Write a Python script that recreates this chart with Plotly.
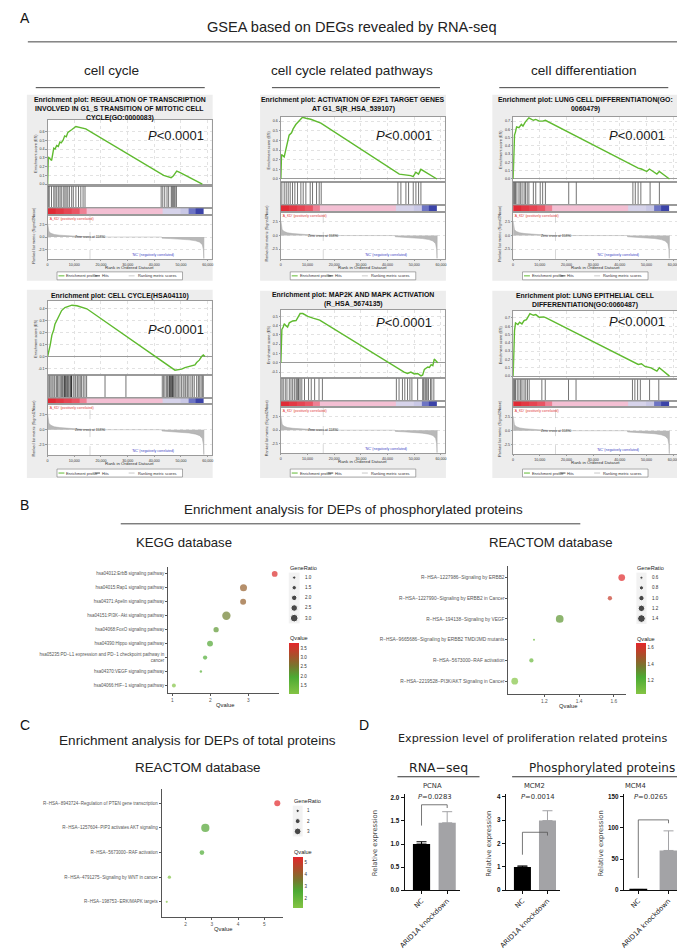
import plotly.graph_objects as go

W, H = 685, 949
FONT = "Liberation Sans, Arial, Helvetica, sans-serif"
NARROW = "Liberation Sans Narrow, Arial Narrow, Liberation Sans, sans-serif"
DVS = "DejaVu Sans, Verdana, sans-serif"

# ======================= DATA =======================
# ---- A: GSEA running enrichment score (rank, ES) ----
P1_RANK = [0, 250, 1500, 2300, 2800, 3400, 4000, 4600, 5100, 5800, 6400, 7000, 7600, 8200, 9000, 10600, 12400, 14300, 43500, 46300, 47000, 48400, 49500, 58000]
P1_ES = [0.0, 0.31, 0.27, 0.41, 0.40, 0.44, 0.43, 0.48, 0.47, 0.50, 0.55, 0.54, 0.59, 0.60, 0.62, 0.656, 0.645, 0.63, 0.10, 0.075, 0.09, 0.15, 0.135, 0.0]
P1_HITS = [240, 610, 1460, 2320, 2800, 3410, 4020, 4630, 5120, 5850, 6460, 6950, 7560, 8170, 9020, 9630, 10600, 11580, 12440, 13290, 14020,
           42560, 43170, 43900, 44760, 45370, 46340, 46700, 47070, 47440, 47800, 48290]

P2_RANK = [0, 250, 1250, 1900, 2500, 3100, 4000, 4600, 5600, 6900, 8100, 9400, 11200, 15000, 44400, 48700, 49600, 50600, 51600, 52500, 58500]
P2_ES = [0.0, 0.255, 0.23, 0.31, 0.37, 0.455, 0.48, 0.52, 0.565, 0.61, 0.64, 0.63, 0.62, 0.58, 0.05, 0.035, 0.025, 0.07, 0.05, 0.10, 0.0]
P2_HITS = [375, 1250, 2000, 2750, 3500, 4375, 5250, 6250, 7500, 8375, 9375, 11000, 11875, 13375, 14375, 15125,
           43875, 45000, 46875, 47875, 49625, 50625, 51625, 52500]

P3_RANK = [0, 260, 520, 900, 1300, 2200, 3100, 3700, 4600, 5900, 7600, 8500, 9800, 11100, 12100, 46900, 48100, 50100, 51100, 53900, 54800, 58600]
P3_ES = [0.0, 0.45, 0.53, 0.57, 0.63, 0.62, 0.66, 0.64, 0.69, 0.74, 0.71, 0.72, 0.70, 0.70, 0.71, 0.13, 0.12, 0.09, 0.12, 0.06, 0.09, 0.0]
P3_HITS = [130, 515, 900, 1420, 2190, 2700, 3350, 4120, 4630, 5280, 5920, 7590, 8490, 10160, 11070, 12100, 20850, 23680,
           44900, 45800, 46850, 47880, 51350, 54830]

P4_RANK = [0, 250, 600, 1000, 1600, 2250, 2740, 4000, 5250, 6490, 9100, 11000, 13200, 14700, 47740, 50240, 51480, 52730, 53980, 55230, 55860, 56850, 57730, 58360, 58980]
P4_ES = [0.0, 0.02, 0.07, 0.10, 0.18, 0.22, 0.27, 0.325, 0.385, 0.41, 0.43, 0.425, 0.41, 0.40, -0.114, -0.105, -0.092, -0.086, -0.078, -0.07, -0.05, -0.03, 0.0, 0.014, 0.0]
P4_HITS = [225, 750, 1240, 1720, 2360, 2740, 3370, 3750, 4240, 4740, 5240, 5620, 6110, 6300, 6500, 6740, 7120, 7490, 7740, 8110, 8620, 8800, 8900,
           9000, 9620, 10240, 10610, 11250, 11740, 12240, 12740, 13360, 14000, 14620, 21520, 29360,
           42980, 43500, 43990, 44620, 45000, 45490, 45700, 45980, 46200, 46510, 46730, 46900, 47110, 47480, 48010, 48500, 48990,
           49600, 50240, 50840, 51480, 51850, 52490, 52980, 53730, 54370, 54970, 55870, 56480, 56850, 57490, 57970, 58350]

P5_RANK = [0, 250, 380, 890, 1270, 1900, 2530, 3160, 4430, 5700, 6330, 7220, 8230, 10130, 12030, 14560, 46200, 47470, 48740, 50000, 51270, 52540, 53160, 53800, 55070, 55700, 56340, 56970, 57500, 58200, 58800]
P5_ES = [0.0, 0.18, 0.36, 0.385, 0.42, 0.40, 0.385, 0.43, 0.45, 0.455, 0.485, 0.53, 0.53, 0.50, 0.48, 0.46, -0.10, -0.115, -0.10, -0.12, -0.115, -0.14, -0.13, -0.07, -0.045, -0.05, -0.02, -0.03, 0.04, 0.02, 0.0]
P5_HITS = [380, 890, 1650, 2280, 3160, 3800, 4430, 5060, 5700, 6080, 6460, 6710, 7220, 7850, 8860, 10380, 11390, 12660, 14310, 15570,
           43300, 44310, 45580, 46460, 47480, 48360, 49120, 51270, 53170, 53550, 54060, 54440, 54820, 55320, 56080, 56590, 57350]

P6_RANK = [0, 260, 520, 900, 1800, 2400, 3300, 4100, 5000, 6300, 7600, 8500, 9800, 11500, 12400, 46900, 48100, 49400, 50700, 51700, 53900, 54800, 58600]
P6_ES = [0.0, 0.44, 0.548, 0.64, 0.62, 0.648, 0.628, 0.668, 0.68, 0.752, 0.732, 0.74, 0.708, 0.712, 0.70, 0.14, 0.148, 0.116, 0.108, 0.10, 0.06, 0.10, 0.0]
P6_HITS = [130, 510, 900, 1540, 2180, 2820, 3330, 4100, 4740, 5380, 6030, 10770, 12050, 20770, 23590,
           44740, 45640, 46670, 47690, 51150, 54610]

# ranked list metric (shared by the six GSEA plots)
METRIC_RANK = [0, 150, 500, 1200, 2500, 4500, 7000, 10000, 13000, 15890, 42800, 42900, 46000, 50000, 53000, 55500, 57000, 58000, 58400, 58550, 58600]
METRIC_VAL = [2.7, 1.7, 1.1, 0.75, 0.5, 0.36, 0.25, 0.15, 0.06, 0.0, 0.0, -0.22, -0.3, -0.42, -0.55, -0.75, -1.0, -1.5, -2.5, -4.2, 0.0]
ZERO_CROSS = 15890
BAR_EDGES = [0, 3000, 6000, 9000, 12000, 14500, 43000, 50000, 53000, 55500, 58600]
BAR_LEVELS = [0.0, 0.05, 0.1, 0.16, 0.25, 0.45, 0.62, 0.72, 0.88, 1.0]
RANK_TICKS = [0, 10000, 20000, 30000, 40000, 50000, 60000]
RANK_TICK_TEXT = ["0", "10,000", "20,000", "30,000", "40,000", "50,000", "60,000"]

# ---- B: KEGG (phosphorylated proteins) ----
KEGG_TERMS = ["hsa04012:ErbB signaling pathway", "hsa04015:Rap1 signaling pathway", "hsa04371:Apelin signaling pathway",
              "hsa04151:PI3K−Akt signaling pathway", "hsa04068:FoxO signaling pathway", "hsa04390:Hippo signaling pathway",
              "hsa05235:PD−L1 expression and PD−1 checkpoint pathway in<br>cancer", "hsa04370:VEGF signaling pathway",
              "hsa04066:HIF−1 signaling pathway"]
KEGG_Q = [3.69, 2.87, 2.86, 2.42, 2.15, 1.99, 1.86, 1.75, 1.04]
KEGG_GR = [2.1, 2.7, 2.2, 3.3, 1.9, 2.2, 1.45, 0.6, 1.3]
KEGG_GR_LEG = [1.0, 1.5, 2.0, 2.5, 3.0]
KEGG_Q_TICKS = [1.5, 2.0, 2.5, 3.0, 3.5]

# ---- B: REACTOM (phosphorylated proteins) ----
RB_TERMS = ["R−HSA−1227986−Signaling by ERBB2", "R−HSA−1227990−Signaling by ERBB2 in Cancer", "R−HSA−194138−Signaling by VEGF",
            "R−HSA−9665686−Signaling by ERBB2 TMD/JMD mutants", "R−HSA−5673000−RAF activation",
            "R−HSA−2219528−PI3K/AKT Signaling in Cancer"]
RB_Q = [1.645, 1.577, 1.288, 1.14, 1.125, 1.029]
RB_GR = [1.23, 0.82, 1.4, 0.43, 0.82, 1.23]
RB_GR_LEG = [0.6, 0.8, 1.0, 1.2, 1.4]
RB_Q_TICKS = [1.2, 1.4, 1.6]

# ---- C: REACTOM (total proteins) ----
C_TERMS = ["R−HSA−8943724−Regulation of PTEN gene transcription", "R−HSA−1257604−PIP3 activates AKT signaling",
           "R−HSA−5673000−RAF activation", "R−HSA−4791275−Signaling by WNT in cancer", "R−HSA−198753−ERK/MAPK targets"]
C_Q = [5.49, 2.75, 2.62, 1.38, 1.28]
C_GR = [2.6, 3.9, 1.8, 1.0, 0.3]
C_GR_LEG = [1, 2, 3]
C_Q_TICKS = [2, 3, 4, 5]

# ---- D: expression bars ----
GROUPS = ["NC", "ARID1A knockdown"]
PCNA_MEAN = [1.0, 1.46]
PCNA_SD = [0.05, 0.24]
PCNA_BRACKET = [1.40, 1.85, 1.78]
MCM2_MEAN = [1.0, 2.98]
MCM2_SD = [0.04, 0.42]
MCM2_BRACKET = [1.52, 2.48, 2.34]
MCM4_MEAN = [1.0, 63.8]
MCM4_SD = [0.3, 31.4]
MCM4_BRACKET = [19.7, 112.8, 107.4]

# ======================= HELPERS =======================
fig = go.Figure()
layout = dict(width=W, height=H, margin=dict(l=0, r=0, t=0, b=0), paper_bgcolor="white",
              plot_bgcolor="rgba(0,0,0,0)", showlegend=False, barmode="overlay")
ann, shp = [], []
count = [0]


def new_axes(x0, x1, y0, y1, xa, ya):
    count[0] += 1
    k = count[0]
    s = "" if k == 1 else str(k)
    xa = dict(xa)
    ya = dict(ya)
    xa.update(domain=[x0 / W, x1 / W], anchor="y" + s)
    ya.update(domain=[1 - y1 / H, 1 - y0 / H], anchor="x" + s)
    layout["xaxis" + s] = xa
    layout["yaxis" + s] = ya
    return "x" + s, "y" + s


def txt(x, y, s, size, color="#222", family=FONT, xa="center", ya="middle", angle=0, xref="paper", yref="paper", weight=None):
    if xref == "paper":
        x = x / W
    if yref == "paper":
        y = 1 - y / H
    f = dict(size=size, color=color, family=family)
    if weight:
        f["weight"] = weight
    ann.append(dict(x=x, y=y, xref=xref, yref=yref, text=s, showarrow=False, font=f,
                    xanchor=xa, yanchor=ya, textangle=angle, borderpad=0))


def line(x0, y0, x1, y1, color="#333", width=1, layer="above"):
    shp.append(dict(type="line", xref="paper", yref="paper", x0=x0 / W, y0=1 - y0 / H, x1=x1 / W, y1=1 - y1 / H,
                    line=dict(color=color, width=width), layer=layer))


def box(x0, y0, x1, y1, fill, lc=None, lw=0, layer="below"):
    shp.append(dict(type="rect", xref="paper", yref="paper", x0=x0 / W, y0=1 - y1 / H, x1=x1 / W, y1=1 - y0 / H,
                    fillcolor=fill, line=dict(color=lc or fill, width=lw), layer=layer))


# ======================= PANEL A =======================
GREEN = "#5fba2f"
X_MAX = 61500
BAR_SCALE = [[0, "#e02a35"], [0.2, "#ec6070"], [0.3, "#f0a0b8"], [0.45, "#f3bfd3"], [0.62, "#d6d3ea"],
             [0.72, "#c9c8e6"], [0.88, "#6d74c4"], [1, "#3b43a8"]]
FR = dict(showline=True, mirror=True, linecolor="#9a9a9a", linewidth=0.6)
TF = dict(size=3.6, color="#333", family=FONT)


def gsea(g, rows, title_lines, title_y, ranks, es, hits, es_range, es_ticks, p_xy):
    gx0, gy0, gx1, gy1 = g
    t, eb, hb, cb, mb = rows
    lx, rx = gx0 + 21, gx1 - 1
    box(gx0, gy0, gx1, gy1, "#ededed")
    box(lx, t, rx, mb, "white")
    xbase = dict(range=[0, X_MAX], showgrid=False, zeroline=False, showticklabels=False, ticks="", **FR)
    # enrichment score
    xe, ye = new_axes(lx, rx, t, eb,
                      dict(xbase, showgrid=True, gridcolor="#e2e2e2", griddash="dot", gridwidth=0.5, tickvals=RANK_TICKS),
                      dict(range=es_range, tickvals=es_ticks, ticktext=[f"{v:.1f}" for v in es_ticks], tickfont=TF,
                           showgrid=True, gridcolor="#e2e2e2", griddash="dot", gridwidth=0.5, zeroline=True,
                           zerolinecolor="#9a9a9a", zerolinewidth=0.7, ticks="outside", ticklen=1.5, tickcolor="#9a9a9a",
                           tickwidth=0.5, **FR))
    fig.add_trace(go.Scatter(x=ranks, y=es, mode="lines", line=dict(color=GREEN, width=1.4), xaxis=xe, yaxis=ye, hoverinfo="skip"))
    # hits
    xh, yh = new_axes(lx, rx, eb, hb, xbase, dict(range=[0, 1], showticklabels=False, showgrid=False, zeroline=False, ticks="", **FR))
    hx, hy = [], []
    for h in hits:
        hx += [h, h, None]
        hy += [0, 1, None]
    fig.add_trace(go.Scatter(x=hx, y=hy, mode="lines", line=dict(color="#151515", width=0.6), xaxis=xh, yaxis=yh, hoverinfo="skip"))
    # colour band
    xc, yc = new_axes(lx, rx, hb, cb, xbase, dict(range=[0, 1], showticklabels=False, showgrid=False, zeroline=False, ticks="", **FR))
    fig.add_trace(go.Heatmap(x=BAR_EDGES, y=[0, 1], z=[BAR_LEVELS], colorscale=BAR_SCALE, zmin=0, zmax=1,
                             showscale=False, xaxis=xc, yaxis=yc, hoverinfo="skip"))
    # ranked list metric
    xm, ym = new_axes(lx, rx, cb, mb,
                      dict(range=[0, X_MAX], tickvals=RANK_TICKS, ticktext=RANK_TICK_TEXT, tickfont=TF, ticks="outside",
                           ticklen=1.5, tickcolor="#9a9a9a", tickwidth=0.5, showgrid=False, zeroline=False, **FR),
                      dict(range=[-4.3, 4.3], tickvals=[-2.5, 0, 2.5], ticktext=["-2.5", "0.0", "2.5"], tickfont=TF,
                           ticks="outside", ticklen=1.5, tickcolor="#9a9a9a", tickwidth=0.5, showgrid=True,
                           gridcolor="#e2e2e2", griddash="dot", gridwidth=0.5, zeroline=False, **FR))
    fig.add_trace(go.Scatter(x=METRIC_RANK, y=METRIC_VAL, mode="lines", fill="tozeroy", fillcolor="#b8b8b8",
                             line=dict(color="#a9a9a9", width=0.5), xaxis=xm, yaxis=ym, hoverinfo="skip"))
    fig.add_trace(go.Scatter(x=[ZERO_CROSS, ZERO_CROSS], y=[-4.3, 4.3], mode="lines",
                             line=dict(color="#bdbdbd", width=0.6, dash="dash"), xaxis=xm, yaxis=ym, hoverinfo="skip"))
    txt(ZERO_CROSS, 0, f"Zero cross at {ZERO_CROSS}", 3.4, "#333", xref=xm, yref=ym)
    txt(0, 0.99, "'A_KD' (positively correlated)", 3.5, "#e23a3a", xa="left", ya="top", xref=xm, yref=ym + " domain")
    txt(39500, 0.03, "'NC' (negatively correlated)", 3.5, "#3a44c4", ya="bottom", xref=xm, yref=ym + " domain")
    # labels
    n = len(title_lines)
    for i, tl in enumerate(title_lines):
        txt((gx0 + gx1) / 2, title_y + (i - (n - 1) / 2) * 9, tl, 6.9, "#111", weight="bold")
    txt(gx0 + 9, (t + eb) / 2, "Enrichment score (ES)", 3.8, "#333", angle=-90)
    txt(gx0 + 7, (cb + mb) / 2 - 2, "Ranked list metric (Signal2Noise)", 3.8, "#333", angle=-90)
    txt((lx + rx) / 2, mb + 8.5, "Rank in Ordered Dataset", 4.4, "#333")
    txt(p_xy[0], p_xy[1], "<i>P</i>&lt;0.0001", 13, "#1a1a1a", xa="right")
    # legend box
    cx, cy = (gx0 + gx1) / 2, gy1 - 5
    box(cx - 63.5, cy - 4, cx + 63.5, cy + 4, "white", "#777", 0.6, layer="above")
    line(cx - 62, cy, cx - 56, cy, GREEN, 1)
    txt(cx - 55, cy, "Enrichment profile", 3.9, "#333", xa="left")
    line(cx - 25, cy, cx - 20, cy, "#222", 0.8)
    txt(cx - 19, cy, "Hits", 3.9, "#333", xa="left")
    line(cx + 9, cy, cx + 15, cy, "#bbbbbb", 0.8)
    txt(cx + 17, cy, "Ranking metric scores", 3.9, "#333", xa="left")


gsea((12, 86, 200, 273), (111, 178, 200, 207, 251),
     ["Enrichment plot: REGULATION OF TRANSCRIPTION", "INVOLVED IN G1_S TRANSITION OF MITOTIC CELL", "CYCLE(GO:0000083)"],
     100, P1_RANK, P1_ES, P1_HITS, [-0.023, 0.736], [0, 0.1, 0.2, 0.3, 0.4, 0.5, 0.6], (192, 127))
gsea((248, 86, 436, 273), (108, 174, 197, 204, 251),
     ["Enrichment plot: ACTIVATION OF E2F1 TARGET GENES", "AT G1_S(R_HSA_539107)"],
     95.5, P2_RANK, P2_ES, P2_HITS, [-0.034, 0.648], [0, 0.1, 0.2, 0.3, 0.4, 0.5, 0.6], (423, 127))
gsea((483, 86, 671, 273), (108, 174, 197, 204, 251),
     ["Enrichment plot: LUNG CELL DIFFERENTIATION(GO:", "0060479)"],
     95.5, P3_RANK, P3_ES, P3_HITS, [-0.04, 0.755], [0, 0.1, 0.2, 0.3, 0.4, 0.5, 0.6, 0.7], (659, 127))
gsea((12, 282, 200, 471), (293, 368, 391, 397, 448),
     ["Enrichment plot: CELL CYCLE(HSA04110)"],
     288, P4_RANK, P4_ES, P4_HITS, [-0.158, 0.467], [-0.1, 0, 0.1, 0.2, 0.3, 0.4], (192, 322))
gsea((248, 283, 436, 471), (302, 371, 394, 400, 446),
     ["Enrichment plot: MAP2K AND MAPK ACTIVATION", "(R_HSA_5674135)"],
     291.5, P5_RANK, P5_ES, P5_HITS, [-0.168, 0.571], [-0.1, 0, 0.1, 0.2, 0.3, 0.4, 0.5], (423, 315))
gsea((483, 283, 671, 471), (303, 372, 394, 400, 447),
     ["Enrichment plot: LUNG EPITHELIAL CELL", "DIFFERENTIATION(GO:0060487)"],
     292.5, P6_RANK, P6_ES, P6_HITS, [-0.04, 0.787], [0, 0.1, 0.2, 0.3, 0.4, 0.5, 0.6, 0.7], (659, 314))

# headers A
txt(4, 9, "A", 14, "#111", NARROW, xa="left")
txt(341, 18, "GSEA based on DEGs revealed by RNA-seq", 14.6, "#222", NARROW)
line(13, 33, 670, 33, "#444", 1)
txt(98, 62, "cell cycle", 13.6, "#222", NARROW)
txt(341, 62, "cell cycle related pathways", 13.6, "#222", NARROW)
txt(576, 62, "cell differentiation", 13.6, "#222", NARROW)
line(21, 79, 192, 79, "#444", 1)
line(260, 79, 430, 79, "#444", 1)
line(490, 79, 661, 79, "#444", 1)

# ======================= PANELS B & C =======================
QSCALE = [[0, "#84c444"], [0.33, "#4caa33"], [0.55, "#77762e"], [0.75, "#a8502a"], [1, "#e3262a"]]
AX_X = dict(ticks="outside", ticklen=2, tickcolor="#555", tickwidth=0.8, showline=True, linecolor="#555",
            linewidth=1, showgrid=False, zeroline=False)


def dotplot(xd, yd, terms, q, gr, size_fn, xr, yr, xticks, cax, label_size):
    xa, ya = new_axes(xd[0], xd[1], yd[0], yd[1],
                      dict(AX_X, range=xr, tickvals=xticks, ticktext=[f"{v:g}" for v in xticks],
                           tickfont=dict(size=4.8, color="#555", family=FONT)),
                      dict(AX_X, type="category", categoryorder="array", categoryarray=terms, range=yr,
                           tickfont=dict(size=label_size, color="#555", family=FONT)))
    fig.add_trace(go.Scatter(x=q, y=terms, mode="markers", cliponaxis=False, xaxis=xa, yaxis=ya,
                             marker=dict(size=[size_fn(v) for v in gr], color=q, coloraxis=cax, line=dict(width=0))))
    txt((xd[0] + xd[1]) / 2 + 1, yd[1] + 12, "Qvalue", 5.8, "#222")


def size_legend(xd, yd, vals, size_fn, yr, label_x):
    xa, ya = new_axes(xd[0], xd[1], yd[0], yd[1], dict(range=[0, 1], visible=False), dict(range=yr, visible=False))
    box(xd[0], yd[0], xd[1], yd[1], "#f2f2f2")
    fig.add_trace(go.Scatter(x=[0.5] * len(vals), y=list(range(len(vals))), mode="markers", cliponaxis=False,
                             marker=dict(size=[size_fn(v) for v in vals], color="black"), xaxis=xa, yaxis=ya))
    for i, v in enumerate(vals):
        txt(label_x, i, f"{v:g}" if isinstance(v, int) else f"{v:.1f}", 4.5, "#333", xa="left", yref=ya)
    txt(xd[0], yd[0] - 5, "GeneRatio", 5.6, "#222", xa="left")


def qbar(name, x0, y0, x1, y1, cmin, cmax, ticks, fmt):
    layout[name] = dict(colorscale=QSCALE, cmin=cmin, cmax=cmax,
                        colorbar=dict(x=x0 / W, xanchor="left", y=1 - y1 / H, yanchor="bottom", len=y1 - y0,
                                      lenmode="pixels", thickness=x1 - x0, thicknessmode="pixels", xpad=0, ypad=0,
                                      outlinewidth=0, tickvals=ticks, ticktext=[fmt(v) for v in ticks], ticks="",
                                      tickfont=dict(size=4.5, color="#333", family=FONT)))
    txt(x0, y0 - 5, "Qvalue", 5.6, "#222", xa="left")


def kegg_size(g):
    return max(1.8, 3.3 + (g - 1.0) * 2.2)


def rb_size(g):
    return max(1.8, 3.0 + (g - 0.6) * 5.9)


def c_size(g):
    return max(1.8, 3.3 + (g - 1.0) * 1.7)


# B header
txt(4, 498, "B", 14, "#111", NARROW, xa="left")
txt(343, 503, "Enrichment analysis for DEPs of phosphorylated proteins", 13.4, "#222")
line(107, 517, 572, 517, "#444", 1)
txt(171, 536, "KEGG database", 13.2, "#222")
txt(542, 536, "REACTOM database", 13.2, "#222")

dotplot((155, 267), (560, 687), KEGG_TERMS, KEGG_Q, KEGG_GR, kegg_size, [0.89, 3.8], [8.55, -0.52], [1, 2, 3], "coloraxis", 4.5)
size_legend((277, 288), (566, 617), KEGG_GR_LEG, kegg_size, [4.52, -0.49], 292)
qbar("coloraxis", 277.7, 637, 287.3, 688, 1.02, 3.77, KEGG_Q_TICKS, lambda v: f"{v:.1f}")

dotplot((499.3, 618.3), (559.3, 688.3), RB_TERMS, RB_Q, RB_GR, rb_size, [0.993, 1.67], [5.64, -0.56], [1.2, 1.4, 1.6], "coloraxis2", 4.8)
size_legend((628.7, 639), (566, 617.5), RB_GR_LEG, rb_size, [4.52, -0.49], 643.5)
qbar("coloraxis2", 628.7, 637.3, 639, 688.3, 1.03, 1.653, RB_Q_TICKS, lambda v: f"{v:.1f}")

# C
txt(4, 719, "C", 14, "#111", NARROW, xa="left")
txt(185, 735, "Enrichment analysis for DEPs of total proteins", 13.6, "#222")
txt(185, 762, "REACTOM database", 13.4, "#222")
dotplot((148.3, 270.7), (783.3, 911.7), C_TERMS, C_Q, C_GR, c_size, [1.083, 5.69], [4.61, -0.58], [2, 3, 4, 5], "coloraxis3", 4.5)
size_legend((281, 291), (800, 831), C_GR_LEG, c_size, [2.5, -0.51], 294.5)
qbar("coloraxis3", 281, 851.7, 291, 902.7, 1.25, 5.49, C_Q_TICKS, lambda v: f"{v:g}")

# ======================= PANEL D =======================
txt(347, 719, "D", 14, "#111", NARROW, xa="left")
txt(524, 733, "Expression level of proliferation related proteins", 11.2, "#222", DVS)
txt(428, 762, "RNA−seq", 12.5, "#222", DVS)
line(387, 771, 470, 771, "#333", 1)
txt(594, 762, "Phosphorylated proteins", 12, "#222", DVS)
line(503, 771, 684, 771, "#333", 1)

BAR_COLORS = ["#000000", "#a3a3a6"]


def barchart(xd, yd, xr, yr, yticks, ytext, bw, mean, sd, bracket, gene, ptxt, gene_x, p_x, ylab_x, capw):
    xa, ya = new_axes(xd[0], xd[1], yd[0], yd[1],
                      dict(type="category", categoryorder="array", categoryarray=GROUPS, range=xr, ticks="outside",
                           ticklen=3, tickwidth=1, tickcolor="#111", showline=True, linecolor="#111", linewidth=1.1,
                           tickangle=-45, tickfont=dict(size=6.8, color="#222", family=DVS), showgrid=False, zeroline=False),
                      dict(range=yr, tickvals=yticks, ticktext=ytext, ticks="outside", ticklen=3, tickwidth=1,
                           tickcolor="#111", showline=True, linecolor="#111", linewidth=1.1, showgrid=False, zeroline=False,
                           tickfont=dict(size=6.3, color="#111", family=FONT, weight="bold")))
    for i in range(2):
        fig.add_trace(go.Bar(x=[GROUPS[i]], y=[mean[i]], width=[bw], marker=dict(color=BAR_COLORS[i], line=dict(width=0)),
                             error_y=dict(type="data", symmetric=False, array=[sd[i]], arrayminus=[0], color=BAR_COLORS[i],
                                          thickness=1, width=capw), xaxis=xa, yaxis=ya))
    fig.add_trace(go.Scatter(x=[GROUPS[0], GROUPS[0], GROUPS[1], GROUPS[1]], y=[bracket[0], bracket[1], bracket[1], bracket[2]],
                             mode="lines", line=dict(color="#555", width=0.8), cliponaxis=False, xaxis=xa, yaxis=ya))
    txt(gene_x, 780, gene, 6.8, "#333", DVS)
    txt(p_x, 791, ptxt, 6.8, "#333", DVS)
    txt(ylab_x, 838, "Relative expression", 6.8, "#444", DVS, angle=-90)


barchart((394.3, 450), (788, 885), [-0.656, 1.49], [0, 2.09], [0, 0.5, 1.0, 1.5, 2.0], ["0.0", "0.5", "1.0", "1.5", "2.0"],
         0.67, PCNA_MEAN, PCNA_SD, PCNA_BRACKET, "PCNA", "<i>P</i>=0.0283", 422.7, 425, 365, 5)
barchart((496.7, 551.7), (788, 885), [-0.66, 1.51], [0, 4.13], [0, 1, 2, 3, 4], ["0", "1", "2", "3", "4"],
         0.68, MCM2_MEAN, MCM2_SD, MCM2_BRACKET, "MCM2", "<i>P</i>=0.0014", 525.7, 529.3, 480, 5)
barchart((616, 675), (788, 885), [-0.48, 1.45], [0, 154.8], [0, 50, 100, 150], ["0", "50", "100", "150"],
         0.59, MCM4_MEAN, MCM4_SD, MCM4_BRACKET, "MCM4", "<i>P</i>=0.0265", 628.3, 643.3, 593, 5)

layout["annotations"] = ann
layout["shapes"] = shp
fig.update_layout(**layout)
fig.write_html("out.html")
